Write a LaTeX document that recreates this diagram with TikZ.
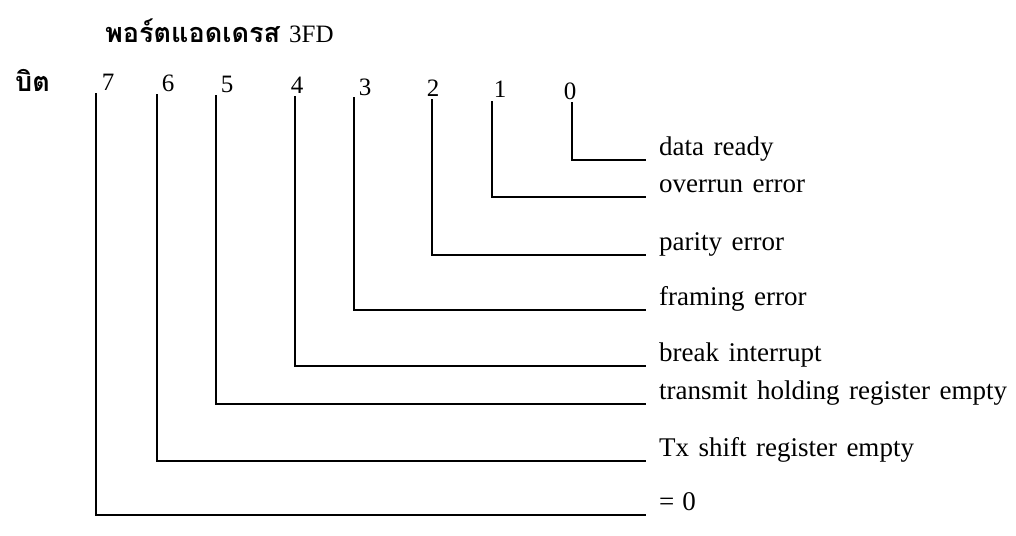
\documentclass[tikz,border=0pt]{standalone}
\usepackage{fontspec}
\setmainfont[WordSpace=1.4]{Liberation Serif}
\newfontfamily\thaifont[Script=Thai]{Loma}
\begin{document}
\begin{tikzpicture}[x=1pt,y=-1pt,
  txt/.style={inner sep=0pt, font=\fontsize{25}{30}\selectfont},
  lbl/.style={inner sep=0pt, anchor=base west, font=\fontsize{27}{32}\selectfont},
  thai/.style={inner sep=0pt, anchor=base west, font=\fontsize{25}{30}\selectfont},
  num/.style={txt, anchor=center},
  wire/.style={line width=1.6pt, black, line cap=rect}]
\useasboundingbox (0,0) rectangle (1016,535);
\node[thai] (title) at (105,42) {{\thaifont\bfseries\fontsize{27}{32}\selectfont พอร์ตแอดเดรส}\hspace{9pt}3FD};
\node[thai] (bit) at (15,91) {\thaifont\bfseries\fontsize{27}{32}\selectfont บิต};
\foreach \n/\nx/\ny/\lx/\ltop/\ly/\lab in {
  7/108/82/96/94/515/{=\hspace{8pt}0},
  6/168/83/157/95/461/{Tx shift register empty},
  5/227/84/216/96/404/{transmit holding register empty},
  4/297/85/295/97/366/{break interrupt},
  3/365/87/354/98/310/{framing error},
  2/433/88/432/100/255/{parity error},
  1/500/89/492/102/197/{overrun error},
  0/570/91/572/103/160/{data ready}} {
  \node[num] (b\n) at (\nx,\ny) {\n};
  \coordinate (t\n) at (\lx,\ltop);
  \coordinate (e\n) at (645,\ly);
  \node[lbl] (l\n) at (659,\ly-5) {\lab};
  \draw[wire] (t\n) |- (e\n);
}
\end{tikzpicture}
\end{document}
